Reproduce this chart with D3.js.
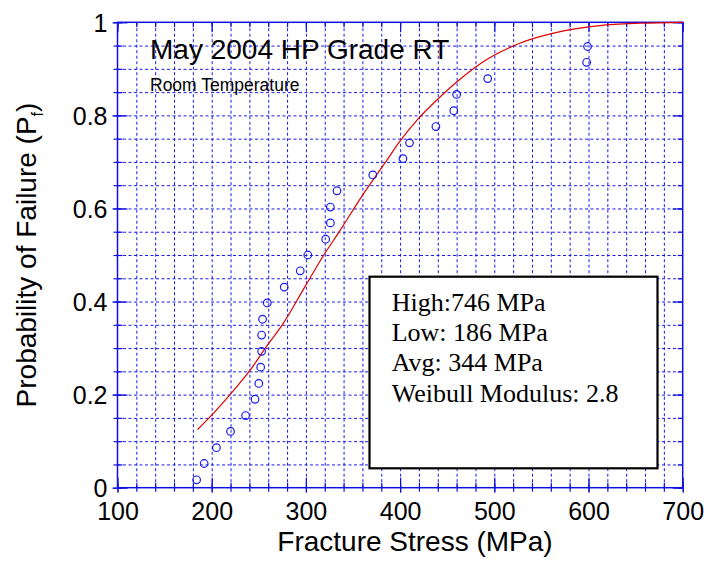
<!DOCTYPE html>
<meta charset="utf-8">
<style>
body { margin: 0; background: #fff; }
.grid line { stroke: #1a1aee; stroke-width: 1; stroke-dasharray: 3,2.5; }
.tk line { stroke: #1010e0; stroke-width: 1.2; }
.lbl text { font-family: "Liberation Sans", Arial, sans-serif; font-size: 25px; fill: #000; }
</style>
<body>
<script src="https://d3js.org/d3.v7.min.js"></script>
<script>

// measured failure points (sorted)
var stressMPa = [184, 192, 205, 220, 236, 246, 250, 252, 253, 253, 254, 259, 277, 294,
                 302, 321, 326, 326, 333, 371, 403, 410, 438, 457, 460, 493, 598, 599];
var probFail = [0.017, 0.052, 0.086, 0.121, 0.155, 0.190, 0.224, 0.259, 0.293, 0.328,
                0.362, 0.397, 0.431, 0.466, 0.500, 0.534, 0.569, 0.603, 0.638, 0.672,
                0.707, 0.741, 0.776, 0.810, 0.845, 0.879, 0.914, 0.948];

// weibull fit curve
var fitStress = [185, 200, 219, 241, 258, 276, 299, 319, 336, 359, 386, 400, 418, 439,
                 462, 492, 527, 570, 612, 655, 700];
var fitProb = [0.125, 0.156, 0.199, 0.253, 0.303, 0.353, 0.432, 0.500, 0.552, 0.625,
               0.704, 0.745, 0.790, 0.833, 0.875, 0.920, 0.955, 0.980, 0.993, 0.998, 1.0];

var xTicks = [100, 200, 300, 400, 500, 600, 700];
var yTicks = [0, 0.2, 0.4, 0.6, 0.8, 1];
var statLines = ["High:746 MPa", "Low: 186 MPa", "Avg: 344 MPa", "Weibull Modulus: 2.8"];

var width = 704, height = 568;
var pL = 117.5, pR = 682.7, pT = 22.3, pB = 487.7;

var x = d3.scaleLinear().domain([100, 700]).range([pL, pR]);
var y = d3.scaleLinear().domain([0, 1]).range([pB, pT]);

var svg = d3.select("body").append("svg")
    .attr("width", width)
    .attr("height", height);

var xMinor = d3.range(100, 701, 20);
var yMinor = d3.range(0, 1.0001, 0.05);

// dashed grid
svg.append("g").attr("class", "grid")
    .attr("transform", "translate(0," + pB + ")")
    .call(d3.axisBottom(x).tickValues(xMinor.slice(1, -1)).tickSize(-(pB - pT)).tickFormat(""))
    .call(function(g) { g.select(".domain").remove(); });
svg.append("g").attr("class", "grid")
    .attr("transform", "translate(" + pL + ",0)")
    .call(d3.axisLeft(y).tickValues(yMinor.slice(1, -1)).tickSize(-(pR - pL)).tickFormat(""))
    .call(function(g) { g.select(".domain").remove(); });

// ticks on all four sides
function ticks(axis, vals, size, tr) {
  svg.append("g").attr("class", "tk")
      .attr("transform", tr)
      .call(axis.tickValues(vals).tickSize(size).tickFormat(""))
      .call(function(g) { g.select(".domain").remove(); });
}
ticks(d3.axisBottom(x), xTicks, -10, "translate(0," + pB + ")");
ticks(d3.axisBottom(x), xTicks, 5, "translate(0," + pB + ")");
ticks(d3.axisBottom(x), xMinor, -5, "translate(0," + pB + ")");
ticks(d3.axisBottom(x), xMinor, 4, "translate(0," + pB + ")");
ticks(d3.axisTop(x), xTicks, -10, "translate(0," + pT + ")");
ticks(d3.axisTop(x), xMinor, -5, "translate(0," + pT + ")");
ticks(d3.axisLeft(y), yTicks, -10, "translate(" + pL + ",0)");
ticks(d3.axisLeft(y), yTicks, 5, "translate(" + pL + ",0)");
ticks(d3.axisLeft(y), yMinor, -5, "translate(" + pL + ",0)");
ticks(d3.axisLeft(y), yMinor, 4, "translate(" + pL + ",0)");
ticks(d3.axisRight(y), yTicks, -10, "translate(" + pR + ",0)");
ticks(d3.axisRight(y), yMinor, -5, "translate(" + pR + ",0)");

// frame
svg.append("rect")
    .attr("x", pL).attr("y", pT)
    .attr("width", pR - pL).attr("height", pB - pT)
    .attr("fill", "none")
    .attr("stroke", "#1010e0")
    .attr("stroke-width", 1.5);

// tick labels
var gx = svg.append("g").attr("class", "lbl")
    .attr("transform", "translate(0," + pB + ")")
    .call(d3.axisBottom(x).tickValues(xTicks).tickSize(0).tickFormat(d3.format("d")));
gx.select(".domain").remove();
gx.selectAll("text").attr("y", 32).attr("dy", 0);

var gy = svg.append("g").attr("class", "lbl")
    .attr("transform", "translate(" + pL + ",0)")
    .call(d3.axisLeft(y).tickValues(yTicks).tickSize(0).tickFormat(function(d) { return d; }));
gy.select(".domain").remove();
gy.selectAll("text").attr("x", -10).attr("dy", "0.36em");

// axis titles
svg.append("text")
    .attr("x", 415).attr("y", 551)
    .attr("text-anchor", "middle")
    .style("font-family", "Liberation Sans, Arial, sans-serif")
    .style("font-size", "28px")
    .text("Fracture Stress (MPa)");

var yt = svg.append("text")
    .attr("transform", "translate(36,255) rotate(-90)")
    .attr("text-anchor", "middle")
    .style("font-family", "Liberation Sans, Arial, sans-serif")
    .style("font-size", "28px");
yt.append("tspan").text("Probability of Failure (P");
yt.append("tspan").attr("dy", 7).style("font-size", "16px").text("f");
yt.append("tspan").attr("dy", -7).text(")");

// titles inside plot
svg.append("text")
    .attr("x", 150).attr("y", 59)
    .style("font-family", "Liberation Sans, Arial, sans-serif")
    .style("font-size", "28px")
    .text("May 2004 HP Grade RT");
svg.append("text")
    .attr("x", 150).attr("y", 90.5)
    .style("font-family", "Liberation Sans, Arial, sans-serif")
    .style("font-size", "17.5px")
    .text("Room Temperature");

// fit line
var fit = fitStress.map(function(d, i) { return [d, fitProb[i]]; });
svg.append("path")
    .datum(fit)
    .attr("fill", "none")
    .attr("stroke", "#e00000")
    .attr("stroke-width", 1.2)
    .attr("d", d3.line()
        .x(function(d) { return x(d[0]); })
        .y(function(d) { return y(d[1]); })
        .curve(d3.curveMonotoneX));

// data points
svg.append("g").selectAll("circle")
    .data(stressMPa)
    .enter().append("circle")
    .attr("cx", function(d) { return x(d); })
    .attr("cy", function(d, i) { return y(probFail[i]); })
    .attr("r", 3.8)
    .attr("fill", "none")
    .attr("stroke", "#1a1aee")
    .attr("stroke-width", 1.2);

// stats box
svg.append("rect")
    .attr("x", 369.5).attr("y", 276.7)
    .attr("width", 288).attr("height", 191.6)
    .attr("fill", "#fff")
    .attr("stroke", "#000")
    .attr("stroke-width", 2.2);

svg.append("g").selectAll("text")
    .data(statLines)
    .enter().append("text")
    .attr("x", 391.7)
    .attr("y", function(d, i) { return 310.7 + i * 30.3; })
    .style("font-family", "Liberation Serif, Times New Roman, serif")
    .style("font-size", "26px")
    .text(function(d) { return d; });

</script>
</body>
